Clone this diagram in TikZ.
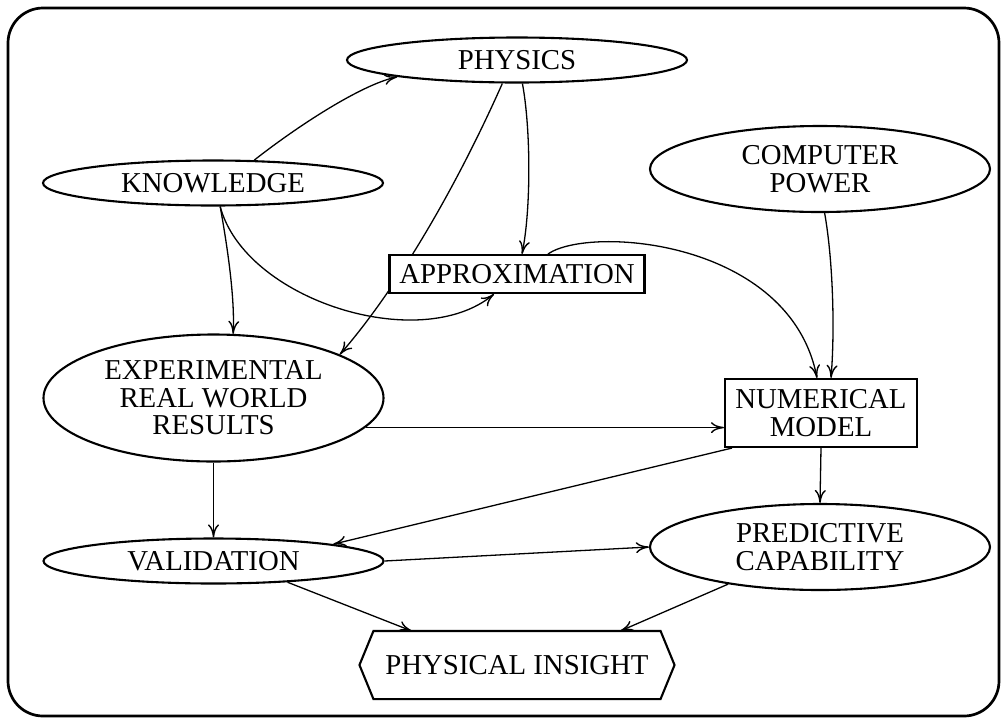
\documentclass[tikz,border=0pt]{standalone}
\usepackage{fontspec}
\setmainfont{Liberation Serif}
\usetikzlibrary{shapes.geometric,arrows.meta,calc}
\pgfdeclarelayer{edges}
\pgfsetlayers{edges,main}
\begin{document}
\begin{tikzpicture}[x=1pt,y=-1pt,
  every node/.style={font=\fontsize{28.8}{27.5}\selectfont, align=center, inner sep=0pt, line width=2.1pt},
  oval/.style={draw, ellipse, fill=white, minimum width=340pt, minimum height=45pt},
  box/.style={draw, rectangle, fill=white},
  link/.style={line width=1.3pt, -{Computer Modern Rightarrow[length=13pt,width=11pt,line width=1.4pt]}}]

\useasboundingbox (0,0) rectangle (1007,724);
\draw[line width=2.7pt, rounded corners=35pt] (8,8) rectangle (999,716);

% nodes
\node[oval] (phys) at (517,60) {PHYSICS};
\node[oval] (know) at (213,183) {KNOWLEDGE};
\node[oval, minimum height=86pt] (comp) at (820,169) {COMPUTER\\POWER};
\node[box, minimum width=255pt, minimum height=38pt] (approx) at (517,274) {APPROXIMATION};
\node[oval, minimum height=127pt] (exper) at (213.5,398) {EXPERIMENTAL\\REAL WORLD\\RESULTS};
\node[box, minimum width=192pt, minimum height=68pt] (num) at (821,413) {NUMERICAL\\MODEL};
\node[oval] (valid) at (213.5,561) {VALIDATION};
\node[oval, minimum height=86pt] (pred) at (820,547) {PREDICTIVE\\CAPABILITY};
\node[minimum width=285pt, minimum height=66pt] (insight) at (517,665) {PHYSICAL INSIGHT};
\draw[line width=2.1pt] (insight.north west) -- (insight.north east)
  -- ([xshift=14pt]insight.east) -- (insight.south east)
  -- (insight.south west) -- ([xshift=-14pt]insight.west) -- cycle;

% connectors, kept behind the shapes
\begin{pgfonlayer}{edges}
\draw[link] (know.29) .. controls (295,128) and (360,85) .. (phys.188);
\draw[link] (phys.-77) .. controls (531,130) and (531,210) .. ([xshift=5pt]approx.north);
\draw[link] (phys.238) .. controls (455,190) and (396,290) .. (exper.19);
\draw[link] (know.-73) .. controls (228,250) and (235,300) .. (exper.73);
\draw[link] (know.-73) .. controls (245,300) and (420,355) .. ([xshift=-23pt]approx.south);
\draw[link] ([xshift=31pt]approx.north) .. controls (590,225) and (790,240) .. ([xshift=-4pt]num.north);
\draw[link] (comp.-84) .. controls (833,260) and (835,330) .. ([xshift=10pt]num.north);
\draw[link] (exper.-11.3) -- (exper.-11.3 -| num.west);
\draw[link] (exper.south) -- (valid.north);
\draw[link] ([xshift=8pt]num.south west) -- (valid.8);
\draw[link] (valid.east) -- (pred.west);
\draw[link] (num.south) -- (pred.north);
\draw[link] (valid.-16) -- ($(insight.north west)!0.133!(insight.north east)$);
\draw[link] (pred.202) -- ($(insight.north west)!0.86!(insight.north east)$);
\end{pgfonlayer}
\end{tikzpicture}
\end{document}
